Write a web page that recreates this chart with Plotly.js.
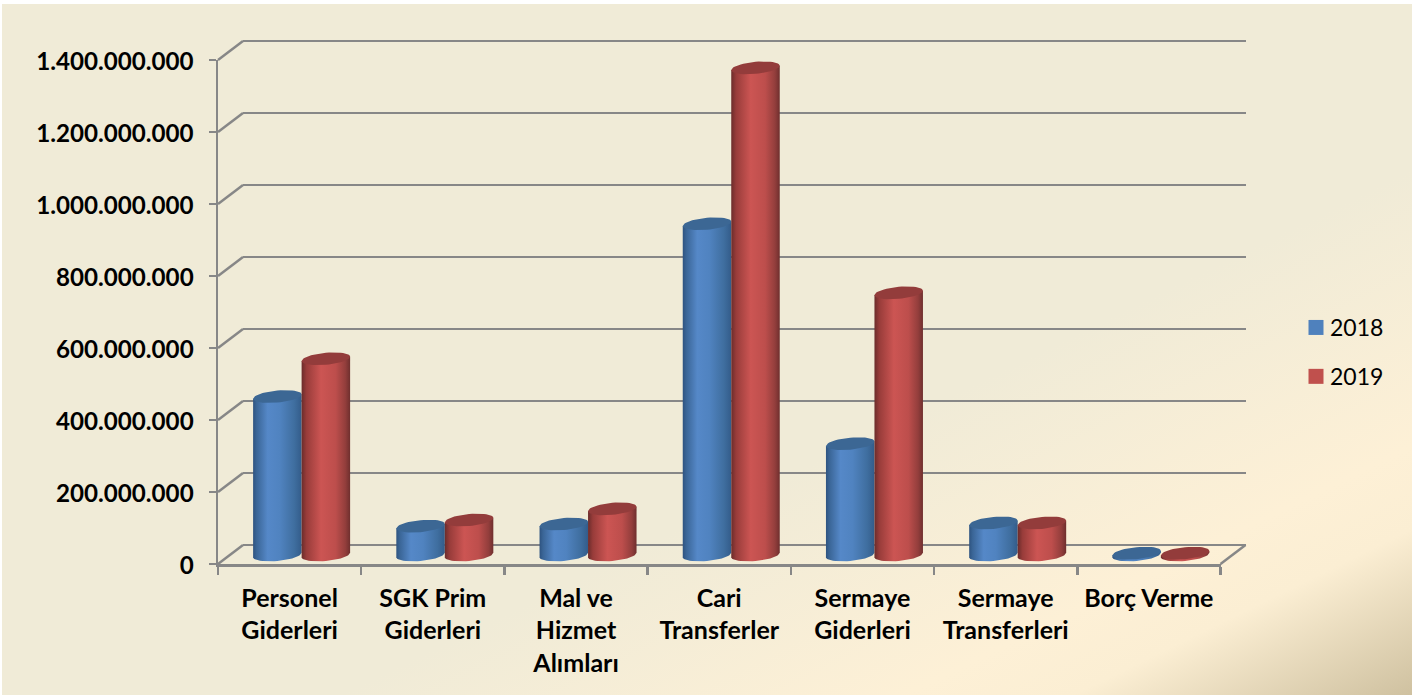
<!DOCTYPE html>
<html>
<head>
<meta charset="utf-8">
<script src="https://cdn.plot.ly/plotly-3.0.1.min.js"></script>
<style>
html,body{margin:0;padding:0;background:#fff;width:1419px;height:695px;overflow:hidden}
#bg{position:absolute;left:2px;top:4px;width:1410px;height:691px;
background:linear-gradient(to bottom right,#F0EBD7 0%,#F0EBD7 62%,#FDF0D6 82%,#FBEED3 88%,#CFC1A0 100%)}
#chart{position:absolute;left:0;top:0;width:1419px;height:695px}
</style>
</head>
<body>
<div id="bg"></div>
<div id="chart"></div>
<script>
const categories = ['Personel<br>Giderleri','SGK Prim<br>Giderleri','Mal ve<br>Hizmet<br>Alımları','Cari<br>Transferler','Sermaye<br>Giderleri','Sermaye<br>Transferleri','Borç Verme'];
const values2018 = [436000000,76000000,82000000,916000000,305000000,85000000,1000000];
const values2019 = [541000000,93000000,124000000,1349000000,724000000,85000000,1000000];
const tickValues = [0,200000000,400000000,600000000,800000000,1000000000,1200000000,1400000000];
const tickLabels = ['0','200.000.000','400.000.000','600.000.000','800.000.000','1.000.000.000','1.200.000.000','1.400.000.000'];
const seriesNames = ['2018','2019'];

const W=1419,H=695;
const FRONT={l:218,r:1220.5,b:564,t:60};
const DEPTH={x:25,y:19};
const MID={x:12,y:10.5};
const PAD=24; // extra room so caps and edge gridlines are not clipped
const yMax=1400000000;
const perPx=yMax/(FRONT.b-FRONT.t);
const catPx=(FRONT.r-FRONT.l)/categories.length;
const halfW=24.25/catPx;
const font='Lato, "Open Sans", sans-serif';
const gridColor='#878787';
const lineW=2.5;

const fx=p=>p/W, fy=p=>1-p/H;
function dom(dx,dy,pad){return {x:[fx(FRONT.l+dx),fx(FRONT.r+dx)],y:[fy(FRONT.b-dy+pad),fy(FRONT.t-dy-pad)]};}

const blueScale=[[0,'#2E5380'],[0.07,'#3A6596'],[0.3,'#5588C8'],[0.55,'#5083C0'],[0.85,'#3F6E9F'],[1,'#335C8A']];
const redScale=[[0,'#6B2C2B'],[0.1,'#983C3A'],[0.4,'#CC5553'],[0.7,'#BD4E4C'],[0.9,'#933E3C'],[1,'#6F2F2E']];
const styles=[
 {bar:'#4F81BD',top:'#3C6794',scale:blueScale,off:-halfW,x:'x3',y:'y3'},
 {bar:'#C0504D',top:'#933C3B',scale:redScale,off:halfW,x:'x4',y:'y4'}
];

const A=halfW,B=6*perPx,S=2.2*perPx;
function rim(cx,cv,from,to,n){
  const xs=[],ys=[];
  for(let k=0;k<=n;k++){
    const t=from+(to-from)*k/n;
    xs.push(cx+A*Math.cos(t));
    ys.push(cv+B*Math.sin(t)+S*Math.cos(t));
  }
  return {xs,ys};
}
const baseDrop=1.5*perPx;

const traces=[];
traces.push({x:categories,y:categories.map(()=>0),xaxis:'x',yaxis:'y',type:'scatter',mode:'markers',marker:{opacity:0},showlegend:false,hoverinfo:'skip'});
traces.push({x:[0],y:[0],xaxis:'x2',yaxis:'y2',type:'scatter',mode:'markers',marker:{opacity:0},showlegend:false,hoverinfo:'skip'});

[values2018,values2019].forEach((vals,s)=>{
  const st=styles[s];
  traces.push({type:'bar',name:seriesNames[s],legendgroup:seriesNames[s],x:vals.map((_,i)=>i),y:vals,
    width:halfW*1.8,offset:st.off-halfW*0.9,marker:{color:st.bar,line:{width:0}},xaxis:st.x,yaxis:st.y,cliponaxis:false,hoverinfo:'y'});
  vals.forEach((v,i)=>{
    const cx=i+st.off;
    const low=rim(cx,-baseDrop,Math.PI,2*Math.PI,24);
    traces.push({type:'scatter',mode:'lines',line:{width:0},fill:'toself',
      fillgradient:{type:'horizontal',colorscale:st.scale},
      x:low.xs.concat([cx+A,cx-A,cx-A]),
      y:low.ys.concat([v+S,v-S,low.ys[0]]),
      xaxis:st.x,yaxis:st.y,cliponaxis:false,showlegend:false,hoverinfo:'skip'});
  });
  const tx=[],ty=[];
  vals.forEach((v,i)=>{
    const r=rim(i+st.off,v,0,2*Math.PI,48);
    tx.push(...r.xs,null);ty.push(...r.ys,null);
  });
  traces.push({type:'scatter',mode:'lines',line:{width:0},fill:'toself',fillcolor:st.top,x:tx,y:ty,
    xaxis:st.x,yaxis:st.y,cliponaxis:false,showlegend:false,hoverinfo:'skip'});
});

const d0=dom(0,0,0),dBack=dom(DEPTH.x,DEPTH.y,PAD),dMid=dom(MID.x,MID.y,PAD);
const padRange=[-PAD*perPx,yMax+PAD*perPx];
const hiddenX=(d)=>({domain:d.x,range:[-0.5,categories.length-0.5],visible:false,fixedrange:true});
const hiddenY=(d)=>({domain:d.y,range:padRange,visible:false,fixedrange:true});

const shapes=tickValues.map(v=>{
  const yp=FRONT.b-v/perPx;
  return {type:'line',xref:'paper',yref:'paper',layer:'below',x0:fx(FRONT.l),y0:fy(yp),x1:fx(FRONT.l+DEPTH.x),y1:fy(yp-DEPTH.y),line:{color:gridColor,width:lineW}};
});
shapes.push({type:'line',xref:'paper',yref:'paper',layer:'below',x0:fx(FRONT.r),y0:fy(FRONT.b),x1:fx(FRONT.r+DEPTH.x),y1:fy(FRONT.b-DEPTH.y),line:{color:gridColor,width:lineW}});

const layout={
  width:W,height:H,margin:{l:0,r:0,t:0,b:0},autosize:false,
  paper_bgcolor:'rgba(0,0,0,0)',plot_bgcolor:'rgba(0,0,0,0)',
  font:{family:font,color:'#000'},
  barmode:'overlay',shapes,
  xaxis:{domain:d0.x,type:'category',categoryarray:categories,categoryorder:'array',range:[-0.5,categories.length-0.5],
    tickson:'boundaries',ticks:'outside',ticklen:8,tickwidth:lineW,tickcolor:gridColor,showline:true,linecolor:gridColor,linewidth:lineW,
    showgrid:false,zeroline:false,tickangle:0,ticklabelstandoff:10,tickfont:{family:font,size:25,color:'#000',weight:700},fixedrange:true,automargin:false},
  yaxis:{domain:d0.y,range:[0,yMax],tickmode:'array',tickvals:tickValues,ticktext:tickLabels,ticks:'outside',ticklen:7,tickwidth:lineW,tickcolor:gridColor,
    showline:true,linecolor:gridColor,linewidth:lineW,showgrid:false,zeroline:false,ticklabelstandoff:10,
    tickfont:{family:font,size:24.2,color:'#000',weight:700},fixedrange:true,automargin:false},
  xaxis2:Object.assign(hiddenX(dBack),{anchor:'y2'}),
  yaxis2:{domain:dBack.y,range:padRange,anchor:'x2',tickmode:'array',tickvals:tickValues,showticklabels:false,ticks:'',showgrid:true,gridcolor:gridColor,gridwidth:lineW,zeroline:false,showline:false,fixedrange:true},
  xaxis3:Object.assign(hiddenX(dMid),{anchor:'y3'}),
  yaxis3:Object.assign(hiddenY(dMid),{anchor:'x3'}),
  xaxis4:Object.assign(hiddenX(dMid),{anchor:'y4'}),
  yaxis4:Object.assign(hiddenY(dMid),{anchor:'x4'}),
  showlegend:true,
  legend:{x:fx(1290),y:fy(306),xanchor:'left',yanchor:'top',bgcolor:'rgba(0,0,0,0)',tracegroupgap:16,itemclick:false,itemdoubleclick:false,
    font:{family:font,size:23,color:'#000'}}
};

Plotly.newPlot('chart',traces,layout,{displayModeBar:false,staticPlot:true}).then(gd=>{
  gd.querySelectorAll('.legendbar path, .legendpoints path').forEach(p=>{
    p.setAttribute('d','M13.5,7.5H-1.5V-7.5H13.5Z');
  });
  gd.querySelectorAll('.ytick text').forEach(t=>{
    t.setAttribute('transform','translate(0,2) '+(t.getAttribute('transform')||''));
  });
});
</script>
</body>
</html>
